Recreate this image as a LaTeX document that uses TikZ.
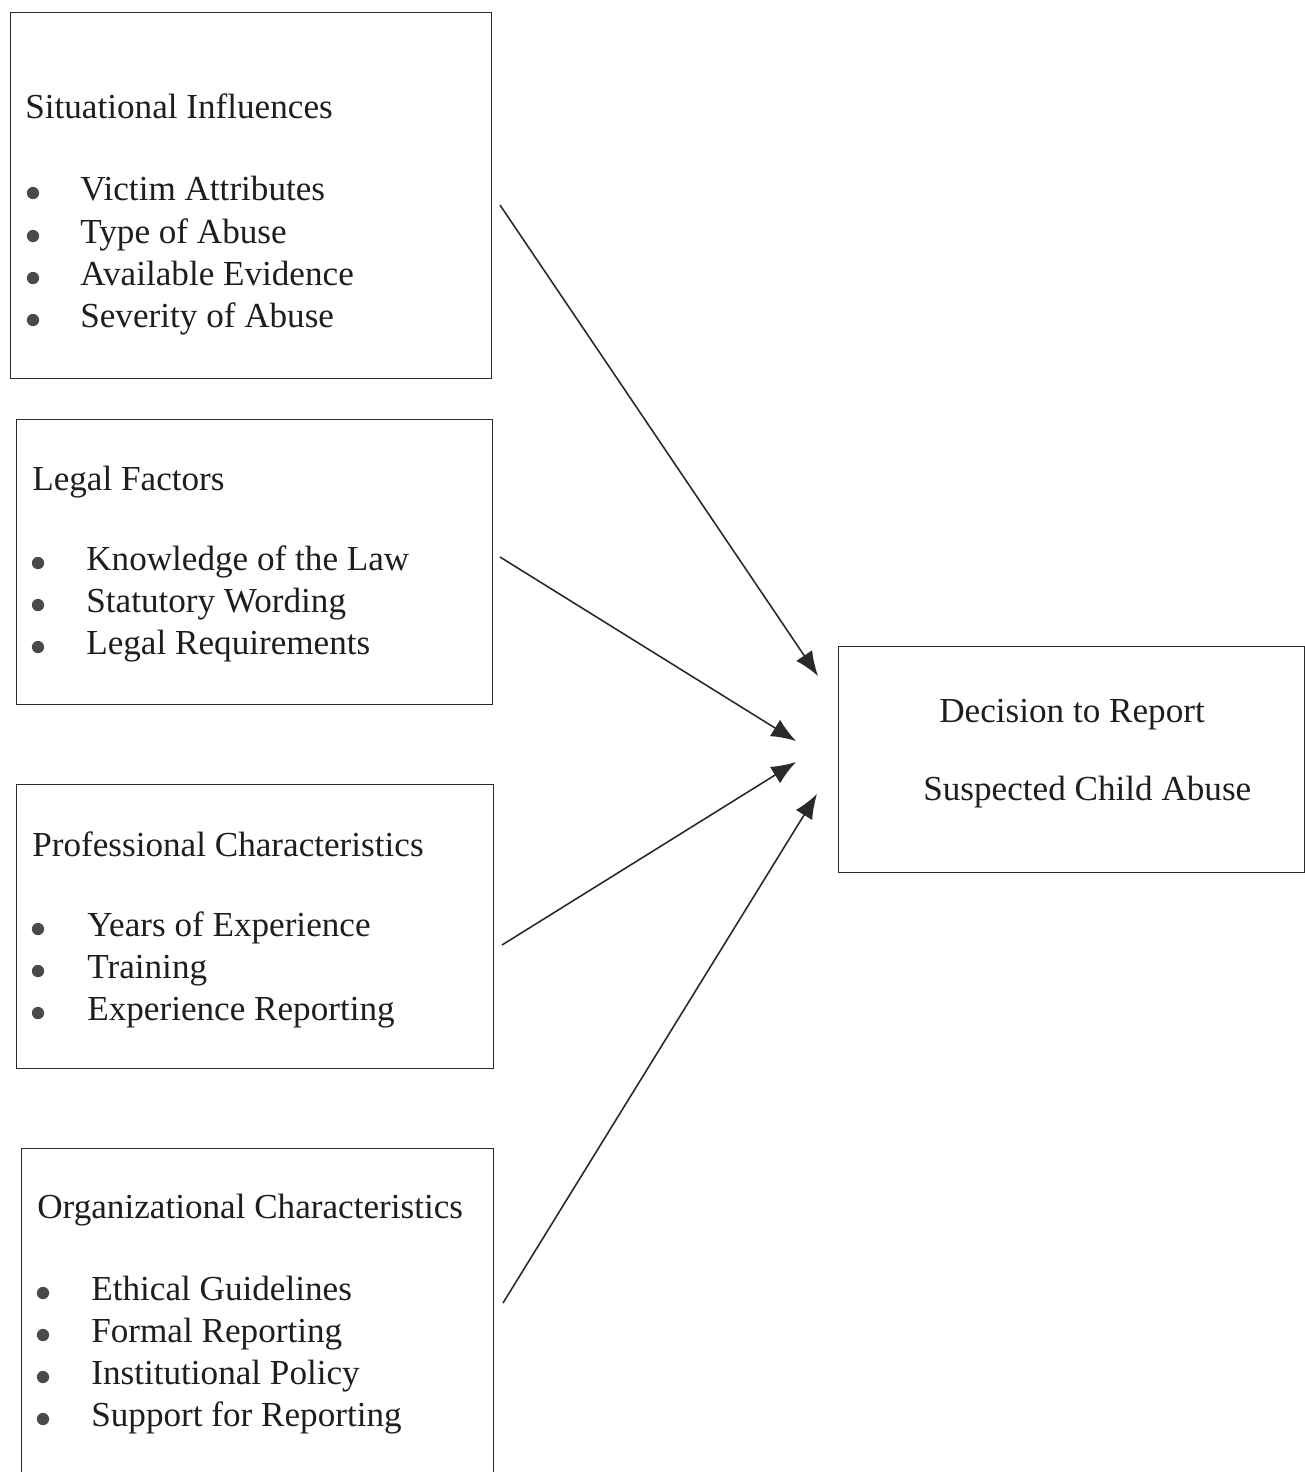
\documentclass[tikz,border=0pt]{standalone}
\usepackage{fontspec}
\setmainfont{Liberation Serif}
\usetikzlibrary{arrows.meta}
\definecolor{ink}{HTML}{2A2A2A}
\definecolor{txt}{HTML}{1E1E1E}
\tikzset{
  box/.style={draw=ink, line width=0.8pt, anchor=north west, inner sep=0pt},
  title/.style={anchor=base west, inner sep=0pt, text=txt, font=\fontsize{20}{24}\selectfont},
  item/.style={anchor=base west, inner sep=0pt, text=txt, font=\fontsize{20}{24}\selectfont},
  dot/.style={circle, fill=ink!85, inner sep=0pt, minimum size=7pt},
  link/.style={draw=ink, line width=0.9pt, -{Latex[length=14pt,width=11pt]}}
}
\begin{document}
\begin{tikzpicture}[x=0.02cm,y=-0.02cm]
\useasboundingbox (0,0) rectangle (1305,1472);
\fill[white] (0,0) rectangle (1305,1472);
\begin{scope}
\clip (0,0) rectangle (1305,1472);
% boxes
\node[box, minimum width=9.62cm, minimum height=7.32cm] (b1) at (10,12) {};
\node[box, minimum width=9.52cm, minimum height=5.70cm] (b2) at (16,419) {};
\node[box, minimum width=9.54cm, minimum height=5.68cm] (b3) at (16,784) {};
\node[box, minimum width=9.44cm, minimum height=7.00cm] (b4) at (21,1148) {};
\node[box, minimum width=9.32cm, minimum height=4.52cm] (b5) at (838,646) {};
\end{scope}
% box 1
\node[title] (t1) at (25,118) {Situational Influences};
\foreach \y/\t [count=\i] in {200/Victim Attributes,243/Type of Abuse,285/Available Evidence,327/Severity of Abuse}{
  \node[dot] (d1\i) at (33,\y-7) {};
  \node[item] (i1\i) at (80,\y) {\t};
}
% box 2
\node[title] (t2) at (32,490) {Legal Factors};
\foreach \y/\t [count=\i] in {570/Knowledge of the Law,612/Statutory Wording,654/Legal Requirements}{
  \node[dot] (d2\i) at (38,\y-7) {};
  \node[item] (i2\i) at (86,\y) {\t};
}
% box 3
\node[title] (t3) at (32,856) {Professional Characteristics};
\foreach \y/\t [count=\i] in {936/Years of Experience,978/Training,1020/Experience Reporting}{
  \node[dot] (d3\i) at (38,\y-7) {};
  \node[item] (i3\i) at (87,\y) {\t};
}
% box 4
\node[title] (t4) at (37,1218) {Organizational Characteristics};
\foreach \y/\t [count=\i] in {1300/Ethical Guidelines,1342/Formal Reporting,1384/Institutional Policy,1426/Support for Reporting}{
  \node[dot] (d4\i) at (43,\y-7) {};
  \node[item] (i4\i) at (91,\y) {\t};
}
% box 5
\node[title] (t5a) at (939,722) {Decision to Report};
\node[title] (t5b) at (923,800) {Suspected Child Abuse};
% connector ends
\coordinate (s1) at (500,205);
\coordinate (e1) at (818,676);
\coordinate (s2) at (500,557);
\coordinate (e2) at (796,741);
\coordinate (s3) at (502,945);
\coordinate (e3) at (796,762);
\coordinate (s4) at (503,1303);
\coordinate (e4) at (817,794);
\draw[link] (s1) -- (e1);
\draw[link] (s2) -- (e2);
\draw[link] (s3) -- (e3);
\draw[link] (s4) -- (e4);
\end{tikzpicture}
\end{document}
